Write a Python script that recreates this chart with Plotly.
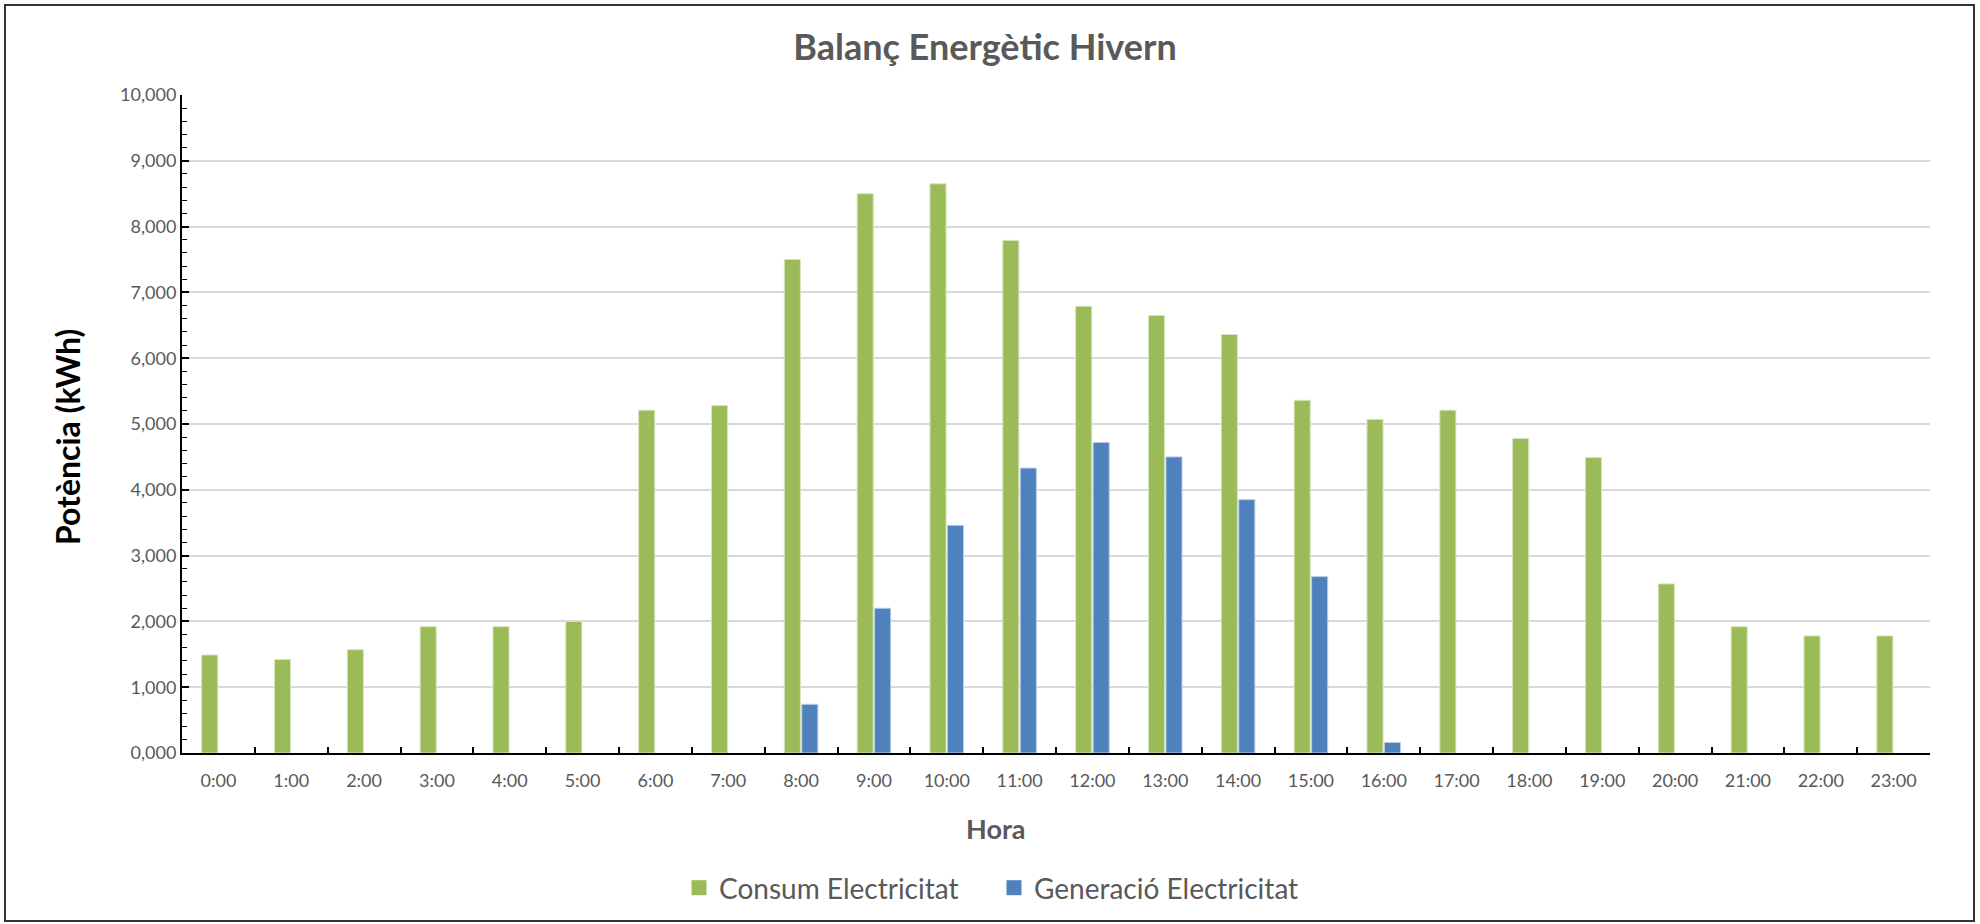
import plotly.graph_objects as go

# Hourly winter energy balance (values shown with 3 decimals, decimal comma)
hours = ["0:00", "1:00", "2:00", "3:00", "4:00", "5:00", "6:00", "7:00",
         "8:00", "9:00", "10:00", "11:00", "12:00", "13:00", "14:00", "15:00",
         "16:00", "17:00", "18:00", "19:00", "20:00", "21:00", "22:00", "23:00"]

consum = [1.49, 1.42, 1.57, 1.92, 1.92, 2.00, 5.21, 5.28,
          7.50, 8.50, 8.65, 7.79, 6.79, 6.65, 6.36, 5.36,
          5.07, 5.21, 4.78, 4.49, 2.57, 1.92, 1.78, 1.78]

generacio = [0, 0, 0, 0, 0, 0, 0, 0,
             0.74, 2.20, 3.46, 4.33, 4.72, 4.50, 3.85, 2.68,
             0.16, 0, 0, 0, 0, 0, 0, 0]

y_ticks = [0, 1, 2, 3, 4, 5, 6, 7, 8, 9, 10]

GREEN = "#9BBB59"
BLUE = "#4F81BD"
GRAY = "#595959"
FONT = "Lato"

# zero-valued hours get no visible bar
def visible(vals):
    return [v if v else None for v in vals]

fig = go.Figure()
series = [("Consum Electricitat", consum, GREEN, "#D7E4BD"),
          ("Generació Electricitat", generacio, BLUE, "#B9CDE5")]
for name, vals, col, edge in series:
    fig.add_trace(go.Bar(
        x=hours, y=visible(vals), name=name, showlegend=False,
        marker=dict(color=col, line=dict(color=edge, width=1)),
    ))
# legend entries with larger square swatches
for name, vals, col, edge in series:
    fig.add_trace(go.Scatter(
        x=[None], y=[None], mode="markers", name=name,
        marker=dict(symbol="square", size=15, color=col),
    ))

# plot area in pixels
L, R, T, B = 182, 50, 95, 171
W, H = 1980, 924
pw, ph = W - L - R, H - T - B

def px_x(x):
    return (x - L) / pw

def px_y(y):
    return (H - B - y) / ph

fig.update_layout(
    width=W, height=H,
    margin=dict(l=L, r=R, t=T, b=B),
    paper_bgcolor="white", plot_bgcolor="white",
    separators=",.",
    barmode="group", bargap=0.52, bargroupgap=0.08,
    font=dict(family=FONT, color=GRAY),
    title=dict(text="<b>Balanç Energètic Hivern</b>", xref="container", x=985 / W,
               xanchor="center", yref="container", y=1 - 47 / H, yanchor="middle",
               font=dict(family=FONT, size=36, color=GRAY)),
    xaxis=dict(
        type="category", categoryorder="array", categoryarray=hours,
        showline=True, linecolor="black", linewidth=2,
        ticks="inside", tickson="boundaries", ticklen=6, tickcolor="black", tickwidth=1.5,
        tickfont=dict(family=FONT, size=18, color=GRAY), ticklabelstandoff=10,
        showgrid=False,
    ),
    yaxis=dict(
        range=[0, 10], tickvals=y_ticks, tickformat=".3f",
        showline=True, linecolor="black", linewidth=2,
        ticks="inside", ticklen=7, tickcolor="black", tickwidth=1.5,
        minor=dict(dtick=0.2, ticks="inside", ticklen=5, tickcolor="black", tickwidth=1.2,
                   showgrid=False),
        tickfont=dict(family=FONT, size=18, color=GRAY),
        showgrid=True, gridcolor="#D9D9D9", gridwidth=1.5,
        zeroline=False,
    ),
    legend=dict(orientation="h", x=994 / W, xref="container", xanchor="center",
                y=1 - 888 / H, yref="container", yanchor="middle",
                font=dict(family=FONT, size=28, color=GRAY),
                itemwidth=30, traceorder="normal", entrywidth=270),
    annotations=[
        dict(text="<b>Hora</b>", xref="paper", yref="paper",
             x=px_x(996), y=px_y(828), xanchor="center", yanchor="middle",
             showarrow=False, font=dict(family=FONT, size=27, color=GRAY)),
        dict(text="<b>Potència (kWh)</b>", xref="paper", yref="paper", textangle=-90,
             x=px_x(67), y=px_y(437), xanchor="center", yanchor="middle",
             showarrow=False, font=dict(family=FONT, size=32, color="black")),
    ],
    shapes=[dict(type="rect", xref="paper", yref="paper",
                 x0=px_x(5), x1=px_x(1974), y0=px_y(921), y1=px_y(5),
                 line=dict(color="#333333", width=2), fillcolor="rgba(0,0,0,0)",
                 layer="below")],
)

fig.write_html("out.html")
